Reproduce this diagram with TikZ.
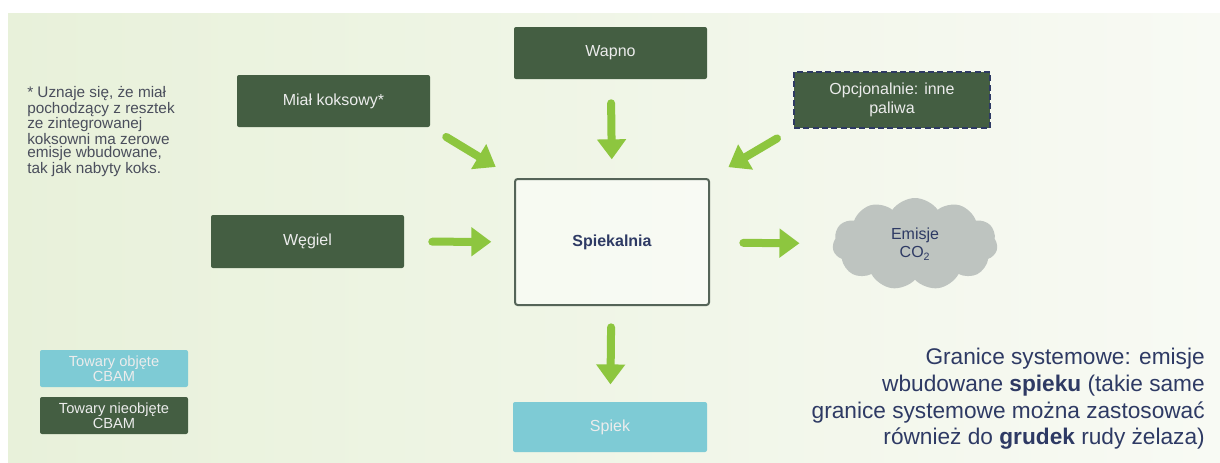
\documentclass[tikz,border=0pt]{standalone}
\usepackage{fontspec}
\setmainfont{Liberation Sans}
\usetikzlibrary{arrows.meta,positioning,shapes.symbols}
\definecolor{darkgreen}{RGB}{68,94,66}
\definecolor{cbamblue}{RGB}{126,203,213}
\definecolor{arrowgreen}{RGB}{141,198,63}
\definecolor{navy}{RGB}{46,58,100}
\definecolor{boxtext}{RGB}{236,236,236}
\definecolor{notegrey}{RGB}{74,78,92}
\definecolor{bgleft}{RGB}{232,241,218}
\definecolor{bgright}{RGB}{248,250,244}
\definecolor{frameline}{RGB}{85,100,88}
\definecolor{cloudgrey}{RGB}{190,196,192}

\begin{document}
\begin{tikzpicture}[
  x=0.75pt, y=-0.75pt,
  every node/.style={align=center},
  darkbox/.style={fill=darkgreen, text=boxtext, rounded corners=1.5pt, minimum width=144.75pt, minimum height=39pt, inner sep=2pt, font=\fontsize{12}{14}\selectfont},
  cbambox/.style={fill=cbamblue, text=boxtext, rounded corners=1.5pt, minimum width=145.5pt, minimum height=37.5pt, inner sep=2pt, font=\fontsize{12}{14}\selectfont},
  legendbox/.style={rounded corners=1.5pt, text=boxtext, minimum width=111pt, minimum height=27.75pt, inner sep=0pt, font=\fontsize{11}{11.6}\selectfont},
  flow/.style={draw=arrowgreen, line width=6pt, line cap=round, -{Triangle[length=15pt,width=21pt]}},
  >=Stealth
]
% background
\useasboundingbox (0,0) rectangle (1220,462);
\fill[white] (0,0) rectangle (1220,462);
\shade[left color=bgleft, right color=bgright] (8,13) rectangle (1220,462);

% boxes
\node[darkbox] (wapno) at (610.5,53) {Wapno};
\node[darkbox] (mial) at (333.5,101) {Miał koksowy*};
\node[darkbox, minimum width=147pt, minimum height=42pt, draw=navy, line width=1.4pt, dash pattern=on 4.5pt off 2.5pt, rounded corners=0pt] (inne) at (892,100) {Opcjonalnie: inne\\paliwa};
\node[darkbox, minimum height=39.75pt] (wegiel) at (307.5,241.5) {Węgiel};
\node[draw=frameline, line width=1.5pt, fill=white, fill opacity=0.5, text opacity=1, rounded corners=2pt, minimum width=145.5pt, minimum height=94.5pt, text=navy, font=\bfseries\fontsize{12}{14}\selectfont] (spiekalnia) at (612,242) {Spiekalnia};
\node[cloud, cloud puffs=11, cloud puff arc=110, aspect=1.8, fill=cloudgrey, minimum width=123.75pt, minimum height=69pt, text=navy, inner sep=0pt, font=\fontsize{12}{14}\selectfont] (emisje) at (915,244) {Emisje\\CO\textsubscript{2}};
\node[cbambox] (spiek) at (610,427) {Spiek};

% legend
\node[legendbox, fill=cbamblue] (objete) at (114,368.5) {Towary objęte\\CBAM};
\node[legendbox, fill=darkgreen] (nieobjete) at (114,415.5) {Towary nieobjęte\\CBAM};

% texts
\node[anchor=north west, align=left, text=notegrey, inner sep=0pt, font=\fontsize{11.5}{10.1}\selectfont] (uwaga) at (27,86) {* Uznaje się, że miał\\pochodzący z resztek\\ze zintegrowanej\\koksowni ma zerowe\\emisje wbudowane,\\tak jak nabyty koks.};
\node[anchor=north east, align=right, text=navy, inner sep=0pt, font=\fontsize{17}{20}\selectfont] (granice) at (1205,348) {Granice systemowe: emisje\\wbudowane \textbf{spieku} (takie same\\granice systemowe można zastosować\\również do \textbf{grudek} rudy żelaza)};

% arrows
\draw[flow, shorten <=18pt, shorten >=14pt] (wapno) -- (spiekalnia.north);
\draw[flow, shorten <=14pt, shorten >=16pt] (mial.south east) -- (spiekalnia.north west);
\draw[flow, shorten <=14pt, shorten >=16pt] (inne.south west) -- (spiekalnia.north east);
\draw[flow, shorten <=21pt, shorten >=17pt] (wegiel) -- (spiekalnia);
\draw[flow, shorten <=25pt, shorten >=25pt] (spiekalnia) -- (emisje);
\draw[flow, shorten <=16pt, shorten >=13pt] (spiekalnia) -- (spiek);
\end{tikzpicture}
\end{document}
